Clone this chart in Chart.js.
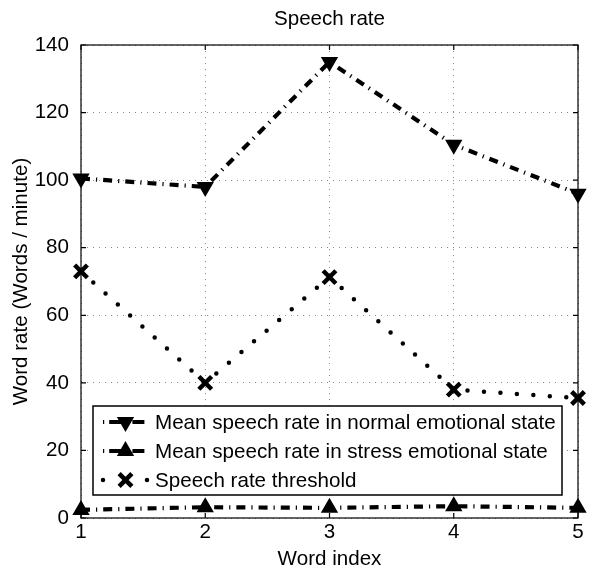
<!DOCTYPE html>
<html>
<head>
<meta charset="utf-8">
<script src="https://cdn.jsdelivr.net/npm/chart.js@4/dist/chart.umd.min.js"></script>
<style>
  html, body { margin: 0; padding: 0; background: #fff; }
</style>
</head>
<body>
<canvas id="chart-speech-rate" width="600" height="572"></canvas>
<script>
const wordIndex = [1, 2, 3, 4, 5];
const normalRate = [100.5, 98, 135, 110.5, 96];
const stressRate = [2.4, 3.2, 3, 3.5, 3];
const thresholdRate = [73, 40, 71.3, 38, 35.5];
const yTicks = [0, 20, 40, 60, 80, 100, 120, 140];

const FONT = "'Liberation Sans', Arial, Helvetica, sans-serif";
const FONT_SIZE = 20.6;
const dashDot = [9, 6, 1.2, 6];

const toPoints = (values) => wordIndex.map((x, i) => ({ x: x, y: values[i] }));

// box round the axes, MATLAB style ticks pointing inwards
const axesBox = {
  id: 'axesBox',
  beforeDatasetsDraw(chart) {
    const { ctx, chartArea: a, scales } = chart;
    ctx.save();
    ctx.strokeStyle = '#000';
    ctx.lineWidth = 1.2;
    ctx.setLineDash([]);
    ctx.strokeRect(a.left, a.top, a.right - a.left, a.bottom - a.top);
    ctx.beginPath();
    scales.y.ticks.forEach(t => {
      const y = scales.y.getPixelForValue(t.value);
      ctx.moveTo(a.left, y); ctx.lineTo(a.left + 5, y);
      ctx.moveTo(a.right, y); ctx.lineTo(a.right - 5, y);
    });
    scales.x.ticks.forEach(t => {
      const x = scales.x.getPixelForValue(t.value);
      ctx.moveTo(x, a.bottom); ctx.lineTo(x, a.bottom - 5);
      ctx.moveTo(x, a.top); ctx.lineTo(x, a.top + 5);
    });
    ctx.stroke();
    // title over the plot
    ctx.fillStyle = '#000';
    ctx.font = FONT_SIZE + 'px ' + FONT;
    ctx.textAlign = 'center';
    ctx.textBaseline = 'alphabetic';
    ctx.fillText('Speech rate', (a.left + a.right) / 2, 25);
    ctx.restore();
  }
};

// legend box drawn inside the axes, lower left
const insideLegend = {
  id: 'insideLegend',
  afterDatasetsDraw(chart) {
    const { ctx, chartArea: a } = chart;
    const left = a.left + 12, right = a.right - 16;
    const top = a.top + 361, bottom = a.bottom - 23;
    ctx.save();
    ctx.fillStyle = '#fff';
    ctx.fillRect(left, top, right - left, bottom - top);
    ctx.strokeStyle = '#000';
    ctx.lineWidth = 1.5;
    ctx.strokeRect(left, top, right - left, bottom - top);

    chart.data.datasets.forEach((ds, i) => {
      const y = top + 16 + i * 29;
      const x0 = left + 10, x1 = left + 55, xm = (x0 + x1) / 2;
      ctx.strokeStyle = '#000';
      ctx.lineWidth = ds.borderWidth;
      ctx.lineCap = ds.borderCapStyle || 'butt';
      if (ds.borderCapStyle === 'round') {
        ctx.setLineDash([0, 22]);
        ctx.lineDashOffset = 0;
      } else {
        ctx.setLineDash([1.2, 5, 12, 5]);
        ctx.lineDashOffset = 0;
      }
      ctx.beginPath();
      ctx.moveTo(x0, y); ctx.lineTo(x1 + 1, y);
      ctx.stroke();
      ctx.setLineDash([]);
      ctx.lineCap = 'butt';
      ctx.fillStyle = '#000';
      ctx.lineWidth = ds.pointBorderWidth;
      Chart.helpers.drawPoint(ctx, {
        pointStyle: ds.pointStyle,
        rotation: ds.pointRotation || 0,
        radius: ds.pointRadius,
        borderWidth: ds.pointBorderWidth
      }, xm, y);

      ctx.fillStyle = '#000';
      ctx.font = FONT_SIZE + 'px ' + FONT;
      ctx.textAlign = 'left';
      ctx.textBaseline = 'middle';
      ctx.fillText(ds.label, left + 62, y + 1);
    });
    ctx.restore();
  }
};

const data = {
  datasets: [{
    label: 'Mean speech rate in normal emotional state',
    data: toPoints(normalRate),
    borderColor: '#000',
    backgroundColor: '#000',
    borderWidth: 4.2,
    borderDash: dashDot,
    pointStyle: 'triangle',
    pointRotation: 180,
    pointRadius: 8,
    pointBorderWidth: 2,
    clip: false
  },
  {
    label: 'Mean speech rate in stress emotional state',
    data: toPoints(stressRate),
    borderColor: '#000',
    backgroundColor: '#000',
    borderWidth: 4.2,
    borderDash: dashDot,
    pointStyle: 'triangle',
    pointRotation: 0,
    pointRadius: 8,
    pointBorderWidth: 2,
    clip: false
  },
  {
    label: 'Speech rate threshold',
    data: toPoints(thresholdRate),
    borderColor: '#000',
    backgroundColor: '#000',
    borderWidth: 4.5,
    borderDash: [0, 16.5],
    borderCapStyle: 'round',
    pointStyle: 'crossRot',
    pointRadius: 9,
    pointBorderWidth: 4.5,
    clip: false
  }]
};

new Chart(document.getElementById('chart-speech-rate'), {
  type: 'line',
  data: data,
  plugins: [axesBox, insideLegend],
  options: {
    responsive: false,
    animation: false,
    layout: { padding: { left: 0, right: 22, top: 45, bottom: 0 } },
    elements: { line: { tension: 0, fill: false } },
    plugins: {
      legend: { display: false },
      title: { display: false },
      tooltip: { enabled: false }
    },
    scales: {
      x: {
        type: 'linear',
        min: 1,
        max: 5,
        afterFit(scale) { scale.height = 54; },
        ticks: { stepSize: 1, padding: 2, color: '#000', font: { family: FONT, size: FONT_SIZE } },
        grid: { color: '#8a8a8a', lineWidth: 1, drawTicks: false },
        border: { display: false, dash: [1, 5] },
        title: { display: true, text: 'Word index', color: '#000',
                 font: { family: FONT, size: FONT_SIZE }, padding: { top: 0, bottom: 0 } }
      },
      y: {
        min: 0,
        max: 140,
        afterFit(scale) { scale.width = 81; },
        afterBuildTicks(scale) { scale.ticks = yTicks.map(v => ({ value: v })); },
        ticks: { padding: 12, color: '#000', font: { family: FONT, size: FONT_SIZE } },
        grid: { color: '#8a8a8a', lineWidth: 1, drawTicks: false },
        border: { display: false, dash: [1, 5] },
        title: { display: true, text: 'Word rate (Words / minute)', color: '#000',
                 font: { family: FONT, size: FONT_SIZE }, padding: { top: 9, bottom: 0 } }
      }
    }
  }
});
</script>
</body>
</html>
